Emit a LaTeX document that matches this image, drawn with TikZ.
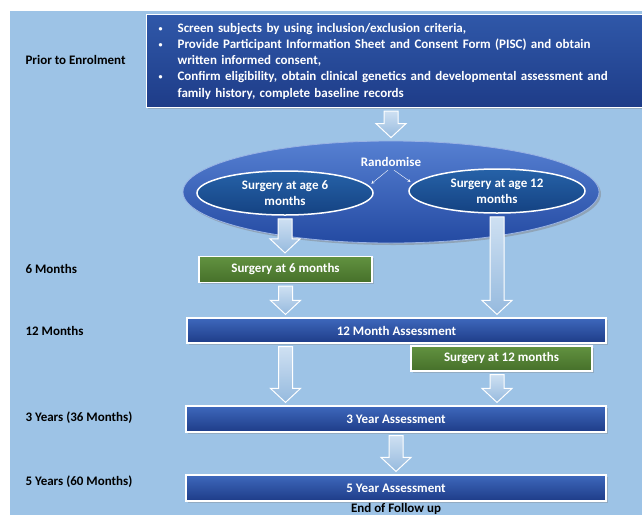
\documentclass[tikz,border=0pt]{standalone}
\usepackage{fontspec}
\setmainfont{Carlito}
\usetikzlibrary{
	calc,
	positioning,
	shapes.geometric,
	shadows
}

\definecolor{pageblue}{RGB}{157,195,230}
\definecolor{boxtop}{RGB}{62,104,188}
\definecolor{boxmid}{RGB}{44,84,164}
\definecolor{boxbot}{RGB}{30,60,136}
\definecolor{greentop}{RGB}{98,146,64}
\definecolor{greenbot}{RGB}{70,112,42}
\definecolor{ovaltop}{RGB}{86,128,210}
\definecolor{ovalbot}{RGB}{36,74,162}
\definecolor{armtop}{RGB}{38,98,168}
\definecolor{armbot}{RGB}{20,66,130}
\definecolor{arrowtop}{RGB}{206,224,242}
\definecolor{arrowbot}{RGB}{150,186,222}

\newcommand{\bul}{\makebox[19pt][l]{\raisebox{1pt}{\fontsize{8}{8}\selectfont\textbullet}}}
% block arrow from #1 down to #2
\newcommand{\flowarrow}[2]{%
	\path[flow-arrow]
		($(#1)+(-7,3)$) -- ($(#2)+(-7,-17)$) -- ($(#2)+(-15,-17)$)
		-- ($(#2)+(0,-3)$) -- ($(#2)+(15,-17)$) -- ($(#2)+(7,-17)$)
		-- ($(#1)+(7,3)$) -- cycle;
}

\begin{document}
\begin{tikzpicture} [
		x = 1pt,
		y = -1pt,
		font = \fontsize{13}{16.3}\selectfont\bfseries,
		box/.style = {
			rectangle,
			draw = white,
			line width = 1.2pt,
			text = white,
			inner sep = 0pt,
			drop shadow = {shadow xshift = 1.5pt, shadow yshift = -1.5pt, opacity = 0.35},
		},
		assessment/.style = {
			box,
			top color = boxtop,
			middle color = boxmid,
			bottom color = boxbot,
			minimum width = 420pt,
			minimum height = 26pt,
		},
		surgery/.style = {
			box,
			top color = greentop,
			bottom color = greenbot,
			minimum height = 26pt,
		},
		arm/.style = {
			ellipse,
			draw = white,
			line width = 1.5pt,
			text = white,
			align = center,
			inner sep = 0pt,
			top color = armtop,
			bottom color = armbot,
			minimum width = 176pt,
			minimum height = 44pt,
		},
		stage/.style = {
			anchor = west,
			text = black,
		},
		flow-arrow/.style = {
			draw = white,
			line width = 1pt,
			line join = miter,
			top color = arrowtop,
			bottom color = arrowbot,
		},
		line/.style = {
			draw = white,
			thin,
			->,
			>=stealth,
			shorten >= 3pt,
		}
	]

	\useasboundingbox (0,0) rectangle (642,515);
	\fill[pageblue] (10,11) rectangle (642,515);

	\node[box, anchor = north west, top color = boxmid!80!boxtop, bottom color = boxbot,
		text width = 495pt, inner xsep = 12pt, minimum height = 93pt, align = left]
		(prior) at (146,14) {
		\bul Screen subjects by using inclusion/exclusion criteria,\\
		\bul Provide Participant Information Sheet and Consent Form (PISC) and obtain\\
		\hspace*{19pt}written informed consent,\\
		\bul Confirm eligibility, obtain clinical genetics and developmental assessment and\\
		\hspace*{19pt}family history, complete baseline records
	};
	\node[stage] (prior-label) at (22,60) {Prior to Enrolment};

	\node[ellipse, draw = ovaltop!60!white, line width = 0.8pt,
		top color = ovaltop, bottom color = ovalbot,
		minimum width = 416pt, minimum height = 102pt,
		drop shadow = {shadow xshift = 2pt, shadow yshift = -2pt, opacity = 0.45}]
		(rand) at (391,192) {};
	\node[text = white] (rand-label) at (391,162) {Randomise};
	\node[arm] (age6) at (285,193) {Surgery at age 6\\months};
	\node[arm] (age12) at (497,191) {Surgery at age 12\\months};

	\draw[line] ([xshift = -3pt]rand-label.south) -- (age6.5);
	\draw[line] ([xshift = 3pt]rand-label.south) -- (age12.175);

	\node[stage] (m6-label) at (22,269) {6 Months};
	\node[surgery, minimum width = 173pt] (s6) at (285.5,269.5) {Surgery at 6 months};

	\node[stage] (m12-label) at (22,331) {12 Months};
	\node[assessment, minimum width = 419pt, minimum height = 25pt] (a12) at (396.5,330.5) {12 Month Assessment};
	\node[surgery, minimum width = 181pt, minimum height = 25pt] (s12) at (501.5,358.5) {Surgery at 12 months};

	\node[stage] (y3-label) at (22,418) {3 Years (36 Months)};
	\node[assessment] (a3) at (396,419) {3 Year Assessment};

	\node[stage] (y5-label) at (22,482) {5 Years (60 Months)};
	\node[assessment] (a5) at (396,488) {5 Year Assessment};
	\node[text = black, inner sep = 0pt] (end) at (396,508.5) {End of Follow up};

	\flowarrow{prior.south -| rand.north}{rand.north}
	\flowarrow{age6.south}{age6.south |- s6.north}
	\flowarrow{age12.south}{age12.south |- a12.north}
	\flowarrow{s6.south}{s6.south |- a12.north}
	\flowarrow{a12.south -| s6.south}{s6.south |- a3.north}
	\flowarrow{s12.south -| age12.south}{age12.south |- a3.north}
	\flowarrow{a3.south}{a3.south |- a5.north}
\end{tikzpicture}
\end{document}
